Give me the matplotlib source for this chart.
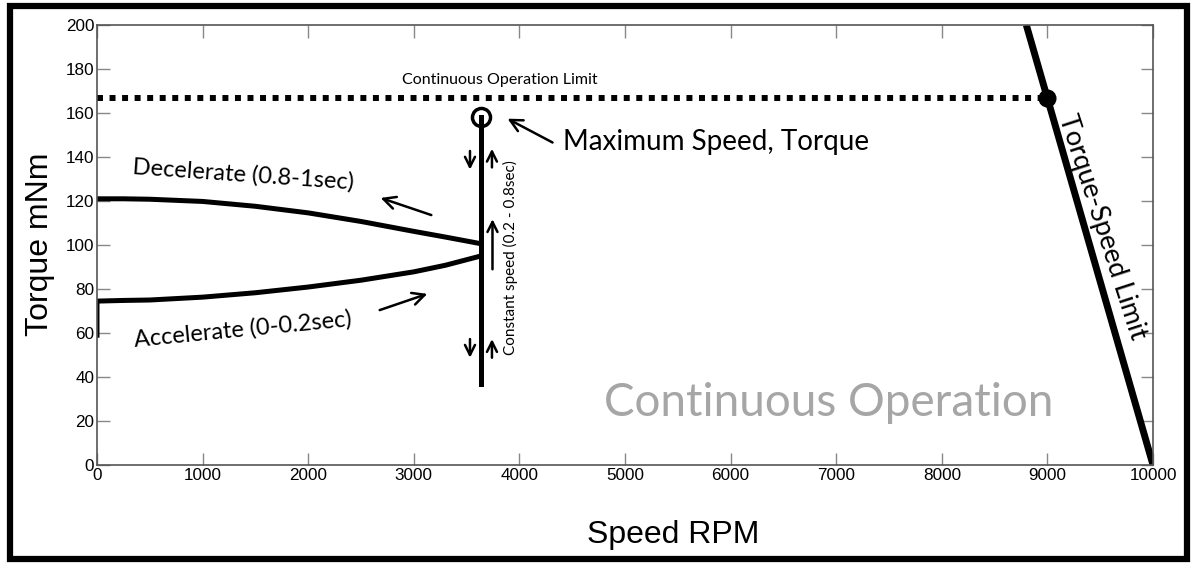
import matplotlib.pyplot as plt
from matplotlib.patches import Rectangle

# data
accel_rpm = [0, 0, 250, 500, 1000, 1500, 2000, 2500, 3000, 3300, 3634]
accel_torque = [59, 74.5, 74.8, 75.0, 76.3, 78.3, 80.9, 84.0, 87.8, 90.8, 95.0]
decel_rpm = [0, 250, 500, 1000, 1500, 2000, 2500, 3000, 3300, 3634]
decel_torque = [121, 121, 120.8, 119.8, 117.6, 114.6, 110.7, 106.2, 103.6, 100.6]
const_rpm = [3634, 3634]
const_torque = [37, 158]
limit_rpm = [0, 9000]
limit_torque = [167, 167]
ts_rpm = [10000, 8800]
ts_torque = [0, 200]
corner = (9000, 167)
max_point = (3634, 158)

xticks = list(range(0, 10001, 1000))
yticks = list(range(0, 201, 20))

note_font = ['Lato', 'DejaVu Sans']

fig = plt.figure(figsize=(11.93, 5.64), dpi=100)
ax = fig.add_axes([0.0813, 0.1755, 0.8852, 0.7802])

ax.plot(limit_rpm, limit_torque, color='black', lw=4.3, linestyle=(0, (1, 1.1)))
ax.plot(ts_rpm, ts_torque, color='black', lw=5, solid_capstyle='butt')
ax.plot(*corner, 'o', color='black', ms=12)
ax.plot(accel_rpm, accel_torque, color='black', lw=3.6)
ax.plot(decel_rpm, decel_torque, color='black', lw=3.6)
ax.plot(const_rpm, const_torque, color='black', lw=3.6)
ax.plot(*max_point, 'o', mfc='none', mec='black', mew=2.5, ms=13)

ax.set_xlim(0, 10000)
ax.set_ylim(0, 200)
ax.set_xticks(xticks)
ax.set_yticks(yticks)
ax.tick_params(direction='in', length=9, width=1, color='#888888',
               top=True, right=True, labelsize=12.3, pad=2)
for lab in ax.get_xticklabels() + ax.get_yticklabels():
    lab.set_family('Liberation Sans')
for sp in ax.spines.values():
    sp.set_color('#555555')
    sp.set_linewidth(1.2)

ax.set_xlabel('Speed RPM', fontsize=23, family='Liberation Sans', va='center')
ax.set_ylabel('Torque mNm', fontsize=23, family='Liberation Sans', va='center')
ax.xaxis.set_label_coords(0.546, -0.159)
ax.yaxis.set_label_coords(-0.054, 0.502)

# annotations
ax.text(3816, 175, 'Continuous Operation Limit', fontsize=11.5, family=note_font,
        ha='center', va='center')
ax.text(1383, 132, 'Decelerate (0.8-1sec)', fontsize=17, family=note_font,
        ha='center', va='center', rotation=-4)
ax.text(1383, 61.5, 'Accelerate (0-0.2sec)', fontsize=17, family=note_font,
        ha='center', va='center', rotation=5.5)
ax.text(4413, 147, 'Maximum Speed, Torque', fontsize=20, family=note_font,
        ha='left', va='center')
ax.text(3911, 94.5, 'Constant speed (0.2 - 0.8sec)', fontsize=11, family=note_font,
        ha='center', va='center', rotation=90)
ax.text(6932, 28, 'Continuous Operation', fontsize=33, family=note_font,
        ha='center', va='center', color='#a6a6a6')
ax.text(9516, 108, 'Torque-Speed Limit', fontsize=19.5, family=note_font,
        ha='center', va='center', rotation=-72, rotation_mode='anchor')

arr = dict(arrowstyle='->', lw=1.8, color='black', mutation_scale=22)
small = dict(arrowstyle='->', lw=1.8, color='black', mutation_scale=18)
ax.annotate('', xy=(3864, 158), xytext=(4337, 146), arrowprops=arr)
ax.annotate('', xy=(2661, 121.8), xytext=(3191, 113.2), arrowprops=arr)
ax.annotate('', xy=(3153, 78.2), xytext=(2652, 70), arrowprops=arr)
ax.annotate('', xy=(3532, 133), xytext=(3532, 144), arrowprops=small)
ax.annotate('', xy=(3740, 145), xytext=(3740, 134), arrowprops=small)
ax.annotate('', xy=(3532, 47.5), xytext=(3532, 58.5), arrowprops=small)
ax.annotate('', xy=(3740, 58.5), xytext=(3740, 47.5), arrowprops=small)
ax.annotate('', xy=(3745, 113), xytext=(3745, 87.7), arrowprops=small)

# outer frame
fig.patches.append(Rectangle((9.5 / 1193, 5 / 564), 1177 / 1193, 553 / 564,
                             transform=fig.transFigure, fill=False,
                             edgecolor='black', lw=4.5))

fig.savefig('out.png', dpi=100)
